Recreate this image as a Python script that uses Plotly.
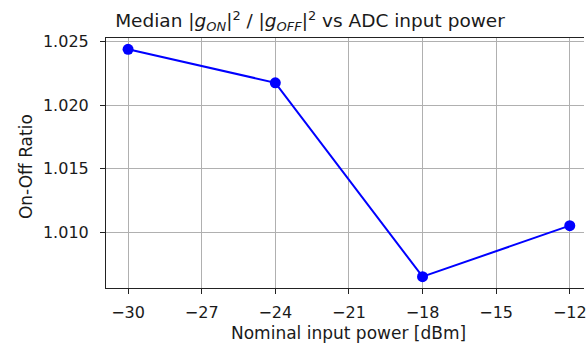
import plotly.graph_objects as go

power_dbm = [-30, -24, -18, -12]
on_off_ratio = [1.02439, 1.02176, 1.00652, 1.01053]
x_ticks = [-30, -27, -24, -21, -18, -15, -12]
x_ticklabels = ["\u221230", "\u221227", "\u221224", "\u221221", "\u221218", "\u221215", "\u221212"]
y_ticks = [1.010, 1.015, 1.020, 1.025]
y_ticklabels = ["1.010", "1.015", "1.020", "1.025"]

W, H = 587, 343
L, R, T, B = 105.5, 0, 38, 55
pw = W - L - R
ph = H - T - B
FONT = "DejaVu Sans"
TXT = "#1a1a1a"

fig = go.Figure()
fig.add_trace(go.Scatter(
    x=power_dbm, y=on_off_ratio, mode="lines+markers",
    line=dict(color="#0000ff", width=2),
    marker=dict(color="#0000ff", size=11),
    showlegend=False, cliponaxis=False,
))

fig.update_layout(
    width=W, height=H, autosize=False,
    margin=dict(l=L, r=R, t=T, b=B, pad=0),
    paper_bgcolor="white", plot_bgcolor="white",
    font=dict(family=FONT, size=16, color=TXT),
    xaxis=dict(
        range=[-30.9, -11.42], tickvals=x_ticks, ticktext=x_ticklabels,
        showgrid=True, gridcolor="#b0b0b0", gridwidth=1,
        showline=True, linecolor="#222", linewidth=1.1, mirror=True,
        ticks="outside", ticklen=5, tickwidth=1.1, tickcolor="#222",
        zeroline=False, tickfont=dict(size=16, color=TXT),
        ticklabeloverflow="allow", ticklabelstandoff=5,
    ),
    yaxis=dict(
        range=[1.00563, 1.02528], tickvals=y_ticks, ticktext=y_ticklabels,
        showgrid=True, gridcolor="#b0b0b0", gridwidth=1,
        showline=True, linecolor="#222", linewidth=1.1, mirror=False,
        ticks="outside", ticklen=5, tickwidth=1.1, tickcolor="#222",
        zeroline=False, tickfont=dict(size=16, color=TXT),
        ticklabeloverflow="allow", ticklabelstandoff=8,
    ),
    title=dict(
        text="Median |<i>g</i><sub><i>ON</i></sub>|<sup>2</sup> / |<i>g</i><sub><i>OFF</i></sub>|<sup>2</sup> vs ADC input power",
        font=dict(family=FONT, size=18.5, color=TXT),
        xref="paper", x=(311 - L) / pw, xanchor="center",
        yref="container", y=1 - 21 / H, yanchor="middle",
    ),
    annotations=[
        dict(text="Nominal input power [dBm]", xref="paper", yref="paper",
             x=(350 - L) / pw, y=(H - B - 333) / ph, xanchor="center", yanchor="middle",
             showarrow=False, font=dict(size=17, color=TXT)),
        dict(text="On-Off Ratio", xref="paper", yref="paper",
             x=(25 - L) / pw, y=(H - B - 167) / ph, xanchor="center", yanchor="middle",
             textangle=-90, showarrow=False, font=dict(size=17, color=TXT)),
    ],
)

fig.write_html("out.html")
